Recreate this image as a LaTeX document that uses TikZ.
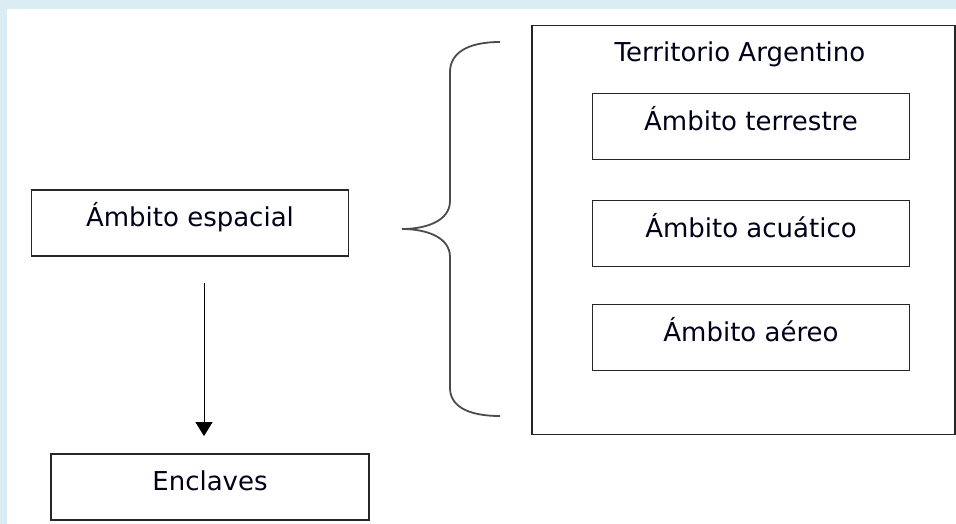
\documentclass[tikz,border=0pt]{standalone}
\usepackage{fontspec}
\setmainfont{DejaVu Sans}
\usepackage{tikz}
\usetikzlibrary{arrows.meta}
\usetikzlibrary{calc}
\definecolor{framebg}{RGB}{218,237,244}
\colorlet{linegray}{black!85}
\tikzstyle{txt}=[font=\fontsize{26}{30}\selectfont,text=black!90!blue,text height=14pt,text depth=6.6pt]
\tikzstyle{ambox}=[draw=linegray,line width=1.8pt,minimum height=66pt,inner sep=0pt,txt]
\tikzstyle{arr}=[line width=1pt,-{Triangle[length=14pt,width=17pt]}]
\tikzstyle{brace}=[line width=1.8pt,black!70]

\begin{document}
\begin{tikzpicture}[x=1pt,y=-1pt]
	\useasboundingbox (0,0) rectangle (956,524);
	\fill[framebg] (0,0) rectangle (956,524);
	\fill[white] (7,9) rectangle (956,524);
	% left column
	\node[ambox,minimum width=317pt] (espacial) at (190,223) {Ámbito espacial};
	\node[ambox,minimum width=318pt] (enclaves) at (210,487) {Enclaves};
	\draw[arr,shorten <=26pt,shorten >=17pt] ([xshift=14pt]espacial.south) -- ([xshift=14pt]espacial.south |- enclaves.north);
	% brace
	\draw[brace] (500,42) .. controls (466,42) and (450,54) .. (450,72) -- (450,201)
		.. controls (450,221) and (426,229) .. (402,229)
		.. controls (426,229) and (450,237) .. (450,257) -- (450,388)
		.. controls (450,405) and (466,416) .. (500,416);
	% territorio
	\node[draw=linegray,line width=1.8pt,minimum width=423pt,minimum height=409pt] (territorio) at (743.5,230) {};
	\node[txt,inner sep=0pt] (titulo) at (740,58.3) {Territorio Argentino};
	\node[ambox,minimum width=317pt] (terrestre) at (751,126.5) {Ámbito terrestre};
	\node[ambox,minimum width=317pt] (acuatico) at (751,233.5) {Ámbito acuático};
	\node[ambox,minimum width=317pt] (aereo) at (751,337.5) {Ámbito aéreo};
\end{tikzpicture}
\end{document}
